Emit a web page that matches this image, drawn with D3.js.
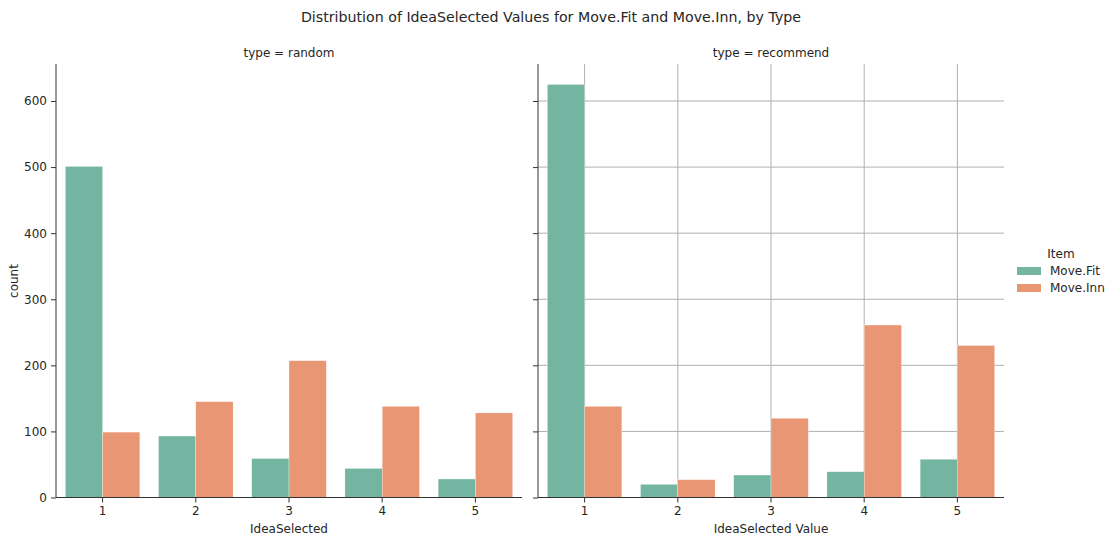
<!DOCTYPE html>
<html><head><meta charset="utf-8">
<script src="https://cdn.jsdelivr.net/npm/d3@7"></script>
<style>body{margin:0;background:#fff}text{font-family:"DejaVu Sans",sans-serif;fill:#262626}</style>
</head><body><svg id="c" width="1107" height="537"></svg>
<script>
const categories = ["1","2","3","4","5"];
const items = ["Move.Fit","Move.Inn"];
const randomFit = [501, 93, 59, 44, 28];
const randomInn = [99, 145, 207, 138, 128];
const recommendFit = [625, 20, 34, 39, 58];
const recommendInn = [138, 27, 120, 261, 230];
const yTicks = [0,100,200,300,400,500,600];
const colors = ["#73b5a0","#e89673"];

(function(){
const svg = d3.select("#c");
const plotTop = 64, plotBottom = 497.5;
const fs = "12px";
const y = d3.scaleLinear().domain([0,656]).range([plotBottom, plotTop]);
const panels = [
  {x0:56, x1:522, title:"type = random", xlabel:"IdeaSelected", data:[randomFit, randomInn], grid:false, ylabels:true},
  {x0:538, x1:1004, title:"type = recommend", xlabel:"IdeaSelected Value", data:[recommendFit, recommendInn], grid:true, ylabels:false}
];

svg.append("text").attr("x",551).attr("y",22).attr("text-anchor","middle").style("font-size","14.2px").text("Distribution of IdeaSelected Values for Move.Fit and Move.Inn, by Type");

panels.forEach(p=>{
  const x = d3.scaleBand().domain(categories).range([p.x0,p.x1]).paddingInner(0.2).paddingOuter(0.1);
  const xOuter = d3.scaleBand().domain(categories).range([p.x0,p.x1]);
  const xs = d3.scaleBand().domain(items).range([0, x.bandwidth()]);
  const g = svg.append("g");
  if(p.grid){
    g.selectAll(".gy").data(yTicks).join("line").attr("x1",p.x0).attr("x2",p.x1)
      .attr("y1",d=>y(d)).attr("y2",d=>y(d)).attr("stroke","#b0b0b0").attr("stroke-width",1);
    g.selectAll(".gx").data(categories).join("line").attr("y1",plotTop).attr("y2",plotBottom)
      .attr("x1",d=>xOuter(d)+xOuter.bandwidth()/2).attr("x2",d=>xOuter(d)+xOuter.bandwidth()/2).attr("stroke","#b0b0b0").attr("stroke-width",1);
  }
  items.forEach((it,i)=>{
    g.selectAll(".b"+i).data(categories).join("rect")
      .attr("x",(d)=>x(d)+xs(it)).attr("width",xs.bandwidth())
      .attr("y",(d,j)=>y(p.data[i][j])).attr("height",(d,j)=>plotBottom-y(p.data[i][j]))
      .attr("fill",colors[i]).attr("stroke","#fff").attr("stroke-width",0.3);
  });
  const ya = d3.axisLeft(y).tickValues(yTicks).tickSize(5).tickPadding(4);
  if(!p.ylabels) ya.tickFormat("");
  const ga = svg.append("g").attr("transform",`translate(${p.x0},0)`).call(ya);
  ga.select(".domain").attr("d",`M0,${plotTop}V${plotBottom}`);
  const xa = d3.axisBottom(xOuter).tickSize(5).tickPadding(4);
  const gb = svg.append("g").attr("transform",`translate(0,${plotBottom})`).call(xa);
  gb.select(".domain").attr("d",`M${p.x0},0H${p.x1}`);
  [ga,gb].forEach(a=>{
    a.selectAll("path,line").attr("stroke","#333").attr("stroke-width",1);
    a.selectAll("text").style("font-size",fs).attr("fill","#262626").style("font-family","DejaVu Sans");
  });
  svg.append("text").attr("x",(p.x0+p.x1)/2).attr("y",57).attr("text-anchor","middle").style("font-size",fs).text(p.title);
  svg.append("text").attr("x",(p.x0+p.x1)/2).attr("y",533).attr("text-anchor","middle").style("font-size",fs).text(p.xlabel);
});
svg.append("text").attr("transform","translate(18,281) rotate(-90)").attr("text-anchor","middle").style("font-size",fs).text("count");

const lg = svg.append("g");
lg.append("text").attr("x",1061).attr("y",258).attr("text-anchor","middle").style("font-size",fs).text("Item");
items.forEach((it,i)=>{
  lg.append("rect").attr("x",1017).attr("y",267+i*17).attr("width",24).attr("height",8).attr("fill",colors[i]);
  lg.append("text").attr("x",1050).attr("y",275+i*17).style("font-size",fs).text(it);
});
})();
</script></body></html>
